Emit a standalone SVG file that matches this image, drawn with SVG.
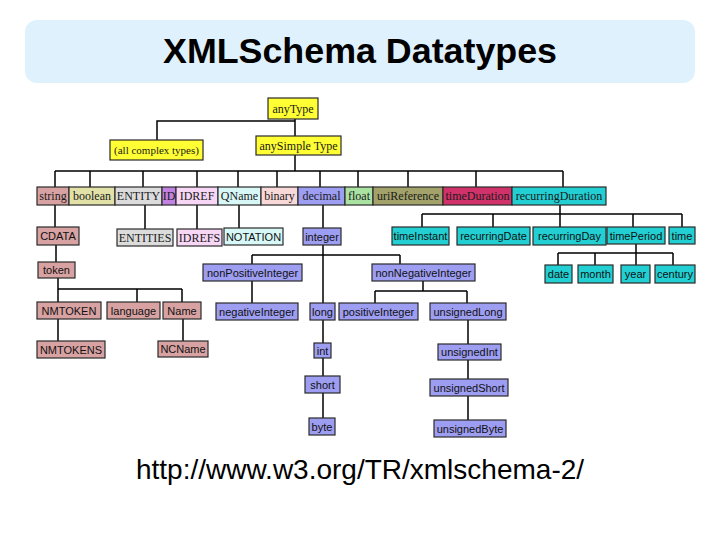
<svg xmlns="http://www.w3.org/2000/svg" width="720" height="540" viewBox="0 0 720 540">
<style>
.bx{stroke:#2a2a2a;stroke-width:1.2}
.yel{fill:#ffff33}.str{fill:#d8a2a2}.bool{fill:#e2e2a8}.ent{fill:#dcdcdc}.idc{fill:#c282e2}
.idref{fill:#f8d6f6}.qn{fill:#d8f8f8}.bin{fill:#f9d8d8}.dec{fill:#9d9df2}.flt{fill:#aae2a2}
.uri{fill:#a2a26a}.td{fill:#d2326a}.cy{fill:#22cfd2}
.sf{font-family:"Liberation Serif","Times New Roman",serif;font-size:12px;fill:#1a1a1a;text-anchor:middle}
.ss{font-family:"Liberation Sans",Arial,sans-serif;font-size:11px;fill:#111;text-anchor:middle}
.cn{stroke:#000;stroke-width:1.5;fill:none}
</style>
<rect x="25" y="20" width="670" height="63" rx="12" fill="#dff1fc"/>
<text x="360" y="63" font-family="Liberation Sans,Arial,sans-serif" font-size="35" font-weight="bold" text-anchor="middle" fill="#000" textLength="394" lengthAdjust="spacingAndGlyphs">XMLSchema Datatypes</text>
<g id="connectors">
<path class="cn" d="M295 119V136M295 121H157V140M295 155V171M55 171H563M55 171V187M90 171V187M143 171V187M197 171V187M238 171V187M277 171V187M320 171V187M358 171V187M408 171V187M476 171V187M563 171V187"/>
<path class="cn" d="M55 205V227M145 205V229M197 205V229M239 205V228M323 205V228"/>
<path class="cn" d="M560 205V214M422 214H682M422 214V227M493 214V227M560 214V227M633 214V227M682 214V227"/>
<path class="cn" d="M636 244V253M558 253H673M558 253V265M595 253V265M636 253V265M673 253V265"/>
<path class="cn" d="M323 245V303M252 255H400M252 255V264M400 255V264M252 281V303M423 281V291M375 291H467M375 291V303M467 291V303"/>
<path class="cn" d="M323 320V343M323 358V376M323 393V418M468 320V344M468 360V379M468 396V420"/>
<path class="cn" d="M56 245V262M58 278V302M58 289H182M137 289V302M182 289V302M58 319V341M183 319V341"/>
</g>
<g id="n-anyType"><rect class="bx yel" x="268" y="98" width="50" height="21"/><text class="sf" x="293" y="113">anyType</text></g>
<g id="n-complex"><rect class="bx yel" x="110" y="140" width="93" height="20"/><text class="sf" x="156.5" y="154" style="font-size:11px">(all complex types)</text></g>
<g id="n-anySimpleType"><rect class="bx yel" x="256" y="136" width="85" height="19"/><text class="sf" x="298.5" y="150">anySimple Type</text></g>
<g id="n-string"><rect class="bx str" x="37" y="187" width="32" height="18"/><text class="sf" x="53" y="200">string</text></g>
<g id="n-boolean"><rect class="bx bool" x="69" y="187" width="46" height="18"/><text class="sf" x="92" y="200">boolean</text></g>
<g id="n-ENTITY"><rect class="bx ent" x="115" y="187" width="47" height="18"/><text class="sf" x="138.5" y="200">ENTITY</text></g>
<g id="n-ID"><rect class="bx idc" x="162" y="187" width="14" height="18"/><text class="sf" x="169" y="200">ID</text></g>
<g id="n-IDREF"><rect class="bx idref" x="176" y="187" width="42" height="18"/><text class="sf" x="197" y="200">IDREF</text></g>
<g id="n-QName"><rect class="bx qn" x="218" y="187" width="43" height="18"/><text class="sf" x="239.5" y="200">QName</text></g>
<g id="n-binary"><rect class="bx bin" x="261" y="187" width="37" height="18"/><text class="sf" x="279.5" y="200">binary</text></g>
<g id="n-decimal"><rect class="bx dec" x="298" y="187" width="47" height="18"/><text class="sf" x="321.5" y="200">decimal</text></g>
<g id="n-float"><rect class="bx flt" x="345" y="187" width="28" height="18"/><text class="sf" x="359" y="200">float</text></g>
<g id="n-uriReference"><rect class="bx uri" x="373" y="187" width="70" height="18"/><text class="sf" x="408" y="200">uriReference</text></g>
<g id="n-timeDuration"><rect class="bx td" x="443" y="187" width="69" height="18"/><text class="sf" x="477.5" y="200">timeDuration</text></g>
<g id="n-recurringDuration"><rect class="bx cy" x="512" y="187" width="94" height="18"/><text class="sf" x="559" y="200">recurringDuration</text></g>
<g id="n-CDATA"><rect class="bx str" x="37" y="227" width="42" height="18"/><text class="ss" x="58" y="240">CDATA</text></g>
<g id="n-ENTITIES"><rect class="bx ent" x="117" y="229" width="56" height="17"/><text class="sf" x="145" y="242">ENTITIES</text></g>
<g id="n-IDREFS"><rect class="bx idref" x="177" y="229" width="45" height="17"/><text class="sf" x="199.5" y="242">IDREFS</text></g>
<g id="n-NOTATION"><rect class="bx qn" x="224" y="228" width="59" height="17"/><text class="ss" x="253.5" y="241">NOTATION</text></g>
<g id="n-integer"><rect class="bx dec" x="303" y="228" width="38" height="17"/><text class="ss" x="322" y="241">integer</text></g>
<g id="n-timeInstant"><rect class="bx cy" x="392" y="227" width="57" height="18"/><text class="ss" x="420.5" y="240">timeInstant</text></g>
<g id="n-recurringDate"><rect class="bx cy" x="457" y="227" width="73" height="18"/><text class="ss" x="493.5" y="240">recurringDate</text></g>
<g id="n-recurringDay"><rect class="bx cy" x="533" y="227" width="73" height="18"/><text class="ss" x="569.5" y="240">recurringDay</text></g>
<g id="n-timePeriod"><rect class="bx cy" x="607" y="227" width="58" height="17"/><text class="ss" x="636" y="239.5">timePeriod</text></g>
<g id="n-time"><rect class="bx cy" x="669" y="227" width="26" height="17"/><text class="ss" x="682" y="239.5">time</text></g>
<g id="n-token"><rect class="bx str" x="38" y="262" width="37" height="16"/><text class="ss" x="56.5" y="274">token</text></g>
<g id="n-nonPositiveInteger"><rect class="bx dec" x="203" y="264" width="99" height="17"/><text class="ss" x="252.5" y="276.5">nonPositiveInteger</text></g>
<g id="n-nonNegativeInteger"><rect class="bx dec" x="372" y="264" width="103" height="17"/><text class="ss" x="423.5" y="276.5">nonNegativeInteger</text></g>
<g id="n-date"><rect class="bx cy" x="545" y="265" width="27" height="18"/><text class="ss" x="558.5" y="278">date</text></g>
<g id="n-month"><rect class="bx cy" x="578" y="265" width="35" height="18"/><text class="ss" x="595.5" y="278">month</text></g>
<g id="n-year"><rect class="bx cy" x="621" y="265" width="29" height="18"/><text class="ss" x="635.5" y="278">year</text></g>
<g id="n-century"><rect class="bx cy" x="655" y="265" width="40" height="18"/><text class="ss" x="675" y="278">century</text></g>
<g id="n-NMTOKEN"><rect class="bx str" x="37" y="302" width="64" height="17"/><text class="ss" x="69" y="314.5">NMTOKEN</text></g>
<g id="n-language"><rect class="bx str" x="107" y="302" width="53" height="17"/><text class="ss" x="133.5" y="314.5">language</text></g>
<g id="n-Name"><rect class="bx str" x="163" y="302" width="38" height="17"/><text class="ss" x="182" y="314.5">Name</text></g>
<g id="n-negativeInteger"><rect class="bx dec" x="216" y="303" width="82" height="17"/><text class="ss" x="257" y="315.5">negativeInteger</text></g>
<g id="n-long"><rect class="bx dec" x="310" y="303" width="25" height="17"/><text class="ss" x="322.5" y="315.5">long</text></g>
<g id="n-positiveInteger"><rect class="bx dec" x="339" y="303" width="79" height="17"/><text class="ss" x="378.5" y="315.5">positiveInteger</text></g>
<g id="n-unsignedLong"><rect class="bx dec" x="430" y="303" width="76" height="17"/><text class="ss" x="468" y="315.5">unsignedLong</text></g>
<g id="n-NMTOKENS"><rect class="bx str" x="37" y="341" width="68" height="17"/><text class="ss" x="71" y="353.5">NMTOKENS</text></g>
<g id="n-NCName"><rect class="bx str" x="158" y="341" width="50" height="16"/><text class="ss" x="183" y="353">NCName</text></g>
<g id="n-int"><rect class="bx dec" x="314" y="343" width="17" height="15"/><text class="ss" x="322.5" y="354.5">int</text></g>
<g id="n-unsignedInt"><rect class="bx dec" x="438" y="344" width="63" height="16"/><text class="ss" x="469.5" y="356">unsignedInt</text></g>
<g id="n-short"><rect class="bx dec" x="305" y="376" width="35" height="17"/><text class="ss" x="322.5" y="388.5">short</text></g>
<g id="n-unsignedShort"><rect class="bx dec" x="430" y="379" width="78" height="17"/><text class="ss" x="469" y="391.5">unsignedShort</text></g>
<g id="n-byte"><rect class="bx dec" x="309" y="418" width="26" height="17"/><text class="ss" x="322" y="430.5">byte</text></g>
<g id="n-unsignedByte"><rect class="bx dec" x="434" y="420" width="72" height="17"/><text class="ss" x="470" y="432.5">unsignedByte</text></g>
<text x="360" y="479" font-family="Liberation Sans,Arial,sans-serif" font-size="28" text-anchor="middle" fill="#000">http://www.w3.org/TR/xmlschema-2/</text>
</svg>
